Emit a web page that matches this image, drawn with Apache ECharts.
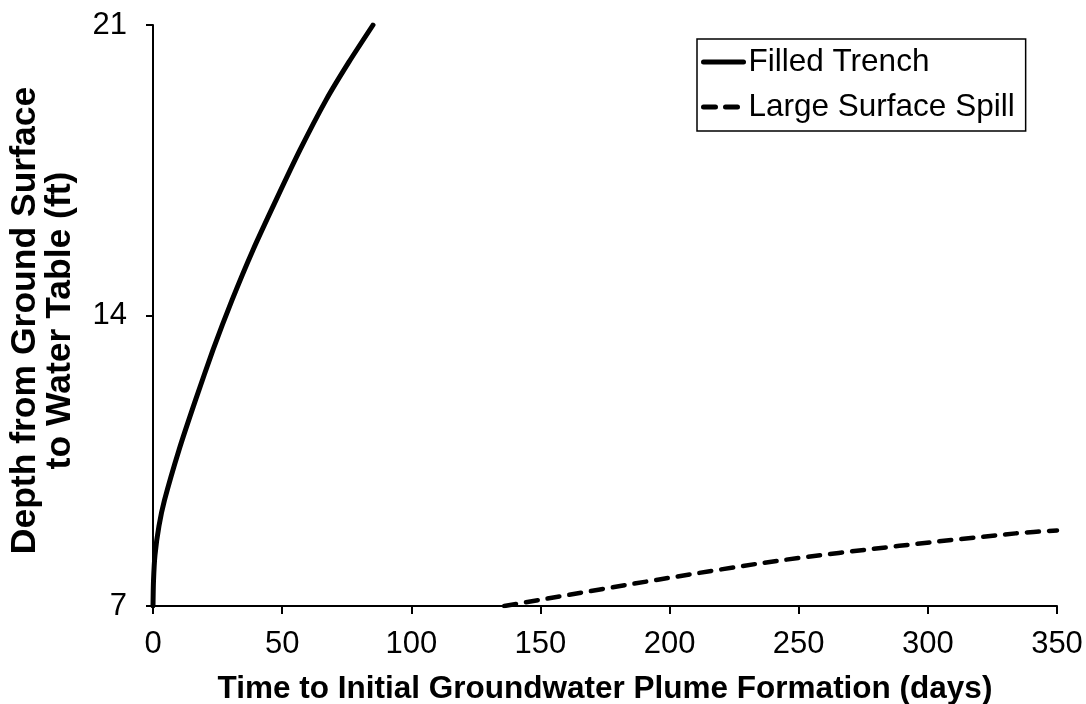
<!DOCTYPE html>
<html>
<head>
<meta charset="utf-8">
<script src="https://cdn.jsdelivr.net/npm/echarts@6/dist/echarts.min.js"></script>
<style>
html,body{margin:0;padding:0;background:#fff;}
#chart{width:1086px;height:704px;}
</style>
</head>
<body>
<div id="chart"></div>
<script>
// Filled Trench: [days, depth ft]
const trenchData = [
  [0, 7], [0.19, 7.6], [0.77, 8.23], [2.32, 8.93], [4.45, 9.55], [10.07, 10.76],
  [16.45, 11.96], [23.23, 13.17], [30.59, 14.37], [38.72, 15.58], [47.62, 16.78],
  [56.91, 17.99], [66.98, 19.19], [75.88, 20.11], [85.18, 21.0]
];
// Large Surface Spill: [days, depth ft]
const spillData = [
  [136, 7], [149, 7.14], [196, 7.64], [242, 8.09], [289, 8.45], [334, 8.75], [350, 8.82]
];
const seriesNames = ['Filled Trench', 'Large Surface Spill'];
const xTitle = 'Time to Initial Groundwater Plume Formation (days)';
const yTitle = 'Depth from Ground Surface\nto Water Table (ft)';

const FONT = '"Liberation Sans", Arial, sans-serif';
const chart = echarts.init(document.getElementById('chart'));
chart.setOption({
  animation: false,
  backgroundColor: '#fff',
  grid: { left: 153, right: 29, top: 25, bottom: 98, containLabel: false, outerBoundsMode: 'none' },
  legend: {
    orient: 'vertical',
    left: 697, top: 39,
    padding: [5, 11, 6, 4],
    itemWidth: 40, itemHeight: 14, itemGap: 9,
    borderColor: '#000', borderWidth: 1.5,
    backgroundColor: '#fff',
    itemStyle: { color: 'rgba(0,0,0,0)', borderColor: 'rgba(0,0,0,0)', borderWidth: 0, opacity: 0 },
    lineStyle: { width: 5, color: '#000' },
    textStyle: { fontFamily: FONT, fontSize: 31.5, color: '#000', lineHeight: 36 },
    data: seriesNames
  },
  xAxis: {
    type: 'value', min: 0, max: 350, interval: 50,
    name: xTitle, nameLocation: 'middle', nameGap: 67,
    nameTextStyle: { fontFamily: FONT, fontSize: 31.5, fontWeight: 'bold', color: '#000' },
    axisLine: { lineStyle: { color: '#000', width: 2 } },
    axisTick: { show: true, length: 8, lineStyle: { color: '#000', width: 2 } },
    axisLabel: { fontFamily: FONT, fontSize: 31, color: '#000', margin: 23 },
    splitLine: { show: false }
  },
  yAxis: {
    type: 'value', min: 7, max: 21, interval: 7,
    name: yTitle, nameLocation: 'middle', nameGap: 75, nameRotate: 90,
    nameTextStyle: { fontFamily: FONT, fontSize: 35.5, fontWeight: 'bold', color: '#000', lineHeight: 35, align: 'center', padding: [0, 10, 0, 0] },
    axisLine: { show: true, lineStyle: { color: '#000', width: 2 } },
    axisTick: { show: true, length: 7, lineStyle: { color: '#000', width: 2 } },
    axisLabel: { fontFamily: FONT, fontSize: 31, color: '#000', margin: 26 },
    splitLine: { show: false }
  },
  series: [
    {
      name: seriesNames[0], type: 'line', data: trenchData,
      showSymbol: false, symbol: 'none', smooth: 0.2,
      lineStyle: { color: '#000', width: 5, cap: 'round' },
      itemStyle: { color: '#000' }
    },
    {
      name: seriesNames[1], type: 'line', data: spillData,
      showSymbol: false, symbol: 'none', smooth: 0.3,
      lineStyle: { color: '#000', width: 4.5, type: [12, 10], cap: 'round' },
      itemStyle: { color: '#000' }
    }
  ]
});
</script>
</body>
</html>
